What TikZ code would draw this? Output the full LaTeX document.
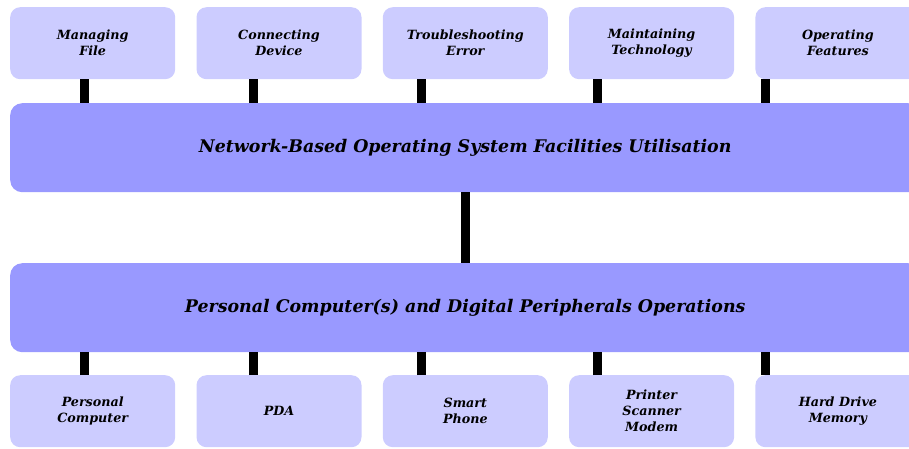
\documentclass[tikz,border=0pt]{standalone}
\usepackage{fontspec}
\setmainfont{DejaVu Serif}
\begin{document}
\begin{tikzpicture}[x=1pt,y=-1pt,
  small/.style={draw=none,fill=smallc,rounded corners=10pt,anchor=north west,
    minimum width=165pt,minimum height=72pt,inner sep=0pt,align=center,
    font=\fontsize{12.7}{16}\selectfont\bfseries\itshape},
  big/.style={draw=none,fill=bigc,rounded corners=12pt,anchor=north west,
    minimum width=910pt,minimum height=89pt,inner sep=0pt,align=center,
    font=\fontsize{17.4}{20}\selectfont\bfseries\itshape},
  conn/.style={line width=9pt,draw=black}]
\definecolor{smallc}{HTML}{CCCCFF}
\definecolor{bigc}{HTML}{9999FF}
\useasboundingbox (0,0) rectangle (909,448);
\clip (0,0) rectangle (909,448);
\node[small] (t1) at (10,7) {Managing\\File};
\node[small] (t2) at (196.3,7) {Connecting\\Device};
\node[small] (t3) at (382.6,7) {Troubleshooting\\Error};
\node[small] (t4) at (568.9,7) {Maintaining\\Technology};
\node[small] (t5) at (755.2,7) {Operating\\Features};
\node[big] (n1) at (10,103) {Network-Based Operating System Facilities Utilisation};
\node[big] (n2) at (10,263) {Personal Computer(s) and Digital Peripherals Operations};
\node[small] (b1) at (10,375) {Personal\\Computer};
\node[small] (b2) at (196.3,375) {PDA};
\node[small] (b3) at (382.6,375) {Smart\\Phone};
\node[small] (b4) at (568.9,375) {Printer\\Scanner\\Modem};
\node[small] (b5) at (755.2,375) {Hard Drive\\Memory};
\foreach \i/\d in {1/-8,2/-25.8,3/-44,4/-54.4,5/-72.1}{
  \draw[conn] ([xshift=\d pt]t\i.south) -- ([xshift=\d pt]t\i.south |- n1.north);
  \draw[conn] ([xshift=\d pt]b\i.north) -- ([xshift=\d pt]b\i.north |- n2.south);
}
\draw[conn] (n1.south) -- (n2.north);
\end{tikzpicture}
\end{document}
